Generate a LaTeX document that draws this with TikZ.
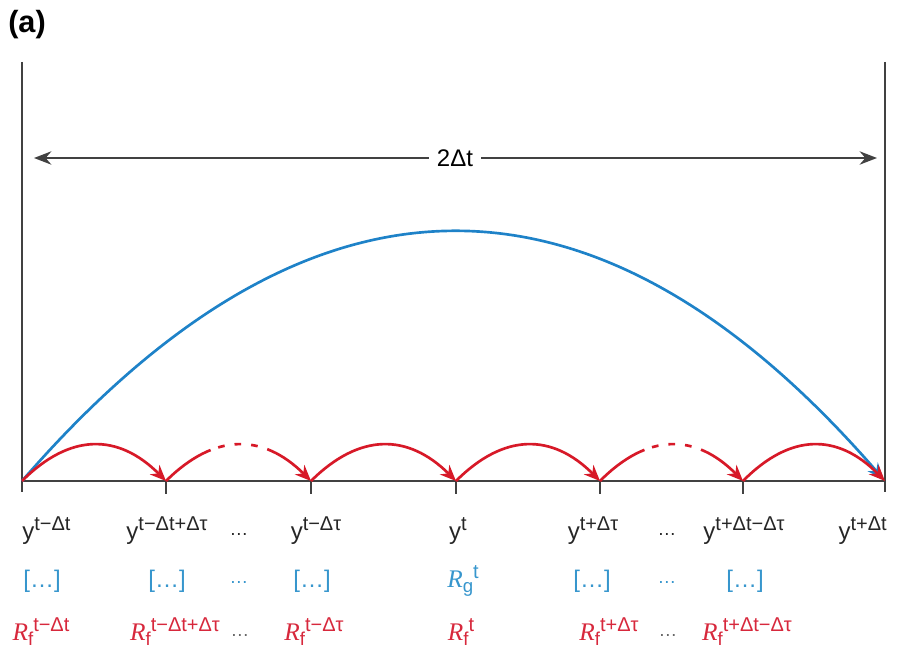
\documentclass[tikz,border=0pt]{standalone}
\usepackage{fontspec}
\setmainfont{Liberation Sans}
\newfontfamily\serifR{Liberation Serif}
\usetikzlibrary{arrows.meta,calc}
\definecolor{axisgray}{RGB}{65,65,65}
\definecolor{hopred}{RGB}{215,25,40}
\definecolor{hopblue}{RGB}{30,130,200}
\definecolor{txtred}{RGB}{215,40,60}
\definecolor{txtblue}{RGB}{55,150,205}
\newcommand{\sups}[1]{\raisebox{6.5pt}{\fontsize{15}{17}\selectfont #1}}
\newcommand{\subs}[1]{\raisebox{-4pt}{\fontsize{14}{16}\selectfont #1}}
\newcommand{\Rsym}[2]{{\serifR\itshape\fontsize{19}{22}\selectfont R}\subs{#1}\sups{#2}}
\newcommand{\ysym}[1]{y\sups{#1}}
\newcommand{\gap}{\raisebox{3pt}{\fontsize{14}{16}\selectfont …}}
\begin{document}
\begin{tikzpicture}[x=0.75pt, y=0.75pt, every node/.style={inner sep=0pt, font=\fontsize{18}{22}\selectfont}, frame/.style={draw=axisgray, line width=1.6pt}, axisline/.style={draw=axisgray, line width=2.2pt}, tickmark/.style={draw=axisgray, line width=1.6pt}, spanarrow/.style={draw=axisgray, line width=1.5pt, -{Stealth[length=13pt, width=10pt]}}, bluehop/.style={draw=hopblue, line width=2pt, -{Stealth[length=12pt, width=10pt]}}, redhop/.style={draw=hopred, line width=2pt, -{Stealth[length=12pt, width=10pt]}}, solidhop/.style={}, dashhop/.style={dash pattern=on 41pt off 6pt on 5pt off 7.5pt on 5pt off 7.5pt on 5pt off 7.5pt on 80pt}, ylab/.style={anchor=base, text=black!85}, blab/.style={anchor=base, text=txtblue}, rlab/.style={anchor=base, text=txtred}]

	\useasboundingbox (0,0) rectangle (897,651);

	\node[font=\fontsize{23}{26}\selectfont\bfseries, anchor=base west] (panel) at (8,618) {(a)};

	\coordinate (ltop) at (22,589);
	\coordinate (lbot) at (22,159);
	\coordinate (rtop) at (885,589);
	\coordinate (rbot) at (885,159);

	\draw[frame] (ltop) -- (lbot);
	\draw[frame] (rtop) -- (rbot);

	\foreach \x [count=\i from 0] in {22,166,311,456,600,743,885}
		\coordinate (t\i) at (\x,170);

	\draw[axisline] (t0) -- (t6);
	\foreach \i in {1,...,5}
		\draw[tickmark] (t\i) -- ++(0,-13);

	\node[fill=white, inner sep=6pt] (span) at (455,493) {2Δt};
	\coordinate (spanl) at (34,493);
	\coordinate (spanr) at (877,493);

	\draw[spanarrow] (span) -- (spanl);
	\draw[spanarrow] (span) -- (spanr);

	\draw[bluehop, shorten >=2pt] (t0) .. controls (309.7,502) and (597.3,502) .. (t6);

	\foreach \a/\b/\s in {0/1/solidhop, 1/2/dashhop, 2/3/solidhop, 3/4/solidhop, 4/5/dashhop, 5/6/solidhop}
		\draw[redhop, \s] (t\a) .. controls ($(t\a)!0.333!(t\b)+(0,48)$) and ($(t\a)!0.667!(t\b)+(0,48)$) .. (t\b);

	\node[ylab, anchor=base west] (y0) at (22,112) {\ysym{t−Δt}};
	\node[ylab] (y1) at (167,112) {\ysym{t−Δt+Δτ}};
	\node[ylab] (yd1) at (239,112) {\gap};
	\node[ylab] (y2) at (316,112) {\ysym{t−Δτ}};
	\node[ylab] (y3) at (458,112) {\ysym{t}};
	\node[ylab] (y4) at (593,112) {\ysym{t+Δτ}};
	\node[ylab] (yd2) at (667,112) {\gap};
	\node[ylab] (y5) at (744,112) {\ysym{t+Δt−Δτ}};
	\node[ylab, anchor=base east] (y6) at (887,112) {\ysym{t+Δt}};

	\node[blab] (b0) at (42,64) {[…]};
	\node[blab] (b1) at (167,64) {[…]};
	\node[blab] (bd1) at (239,64) {\gap};
	\node[blab] (b2) at (312,64) {[…]};
	\node[blab] (b3) at (463,64) {\Rsym{g}{t}};
	\node[blab] (b4) at (592,64) {[…]};
	\node[blab] (bd2) at (667,64) {\gap};
	\node[blab] (b5) at (745,64) {[…]};

	\node[rlab] (r0) at (41,11) {\Rsym{f}{t−Δt}};
	\node[rlab] (r1) at (175,11) {\Rsym{f}{t−Δt+Δτ}};
	\node[rlab, text=black!60] (rd1) at (240,11) {\gap};
	\node[rlab] (r2) at (314,11) {\Rsym{f}{t−Δτ}};
	\node[rlab] (r3) at (461,11) {\Rsym{f}{t}};
	\node[rlab] (r4) at (609,11) {\Rsym{f}{t+Δτ}};
	\node[rlab, text=black!60] (rd2) at (668,11) {\gap};
	\node[rlab] (r5) at (747,11) {\Rsym{f}{t+Δt−Δτ}};

\end{tikzpicture}
\end{document}
